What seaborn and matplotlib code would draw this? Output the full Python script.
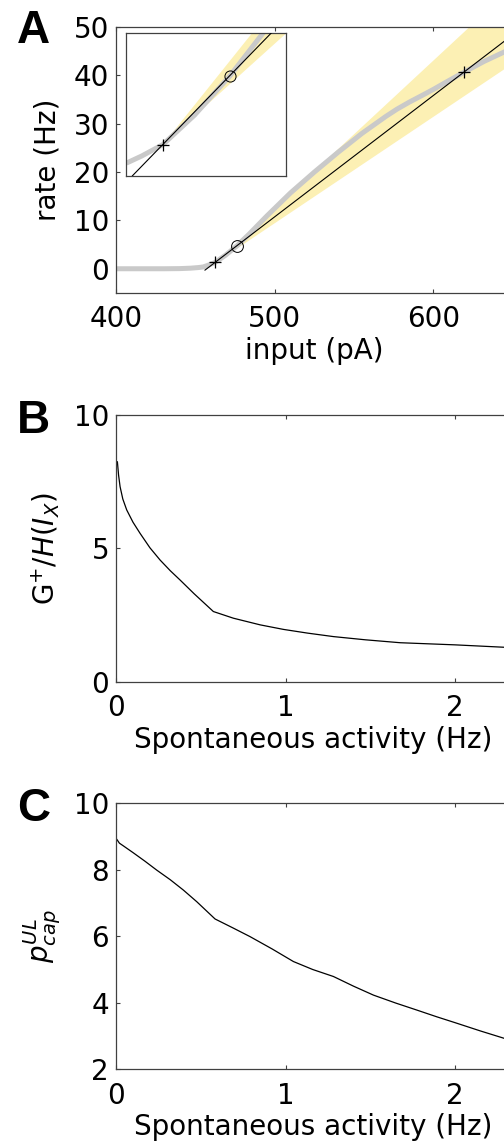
import numpy as np
import pandas as pd
import matplotlib
matplotlib.use("Agg")
import matplotlib.pyplot as plt
import seaborn as sns

# ---------------------------
# Data
# ---------------------------
# Panel A: measured f-I curve (grey), linear fit (black), fit spread (yellow)
fi_input = [400, 430, 440, 447, 452, 455, 458, 462.4, 469, 476.4, 484, 495,
            510, 525, 540, 555, 570, 577, 585, 592, 600, 608, 619.5, 632,
            645, 660]
fi_rate = [0, 0, 0.03, 0.12, 0.25, 0.38, 0.72, 1.3, 2.8, 4.8, 7.2, 10.9,
           15.7, 20.0, 24.1, 28.0, 31.5, 33.0, 34.5, 35.7, 37.1, 38.6, 40.7,
           42.9, 44.9, 47.5]

fit_input = [456.0, 660.0]
fit_rate = [-0.3, 50.9]

band_input = [462.4, 650.0]
band_low = [1.3, 42.6]
band_high = [1.3, 58.5]

plus_input = [462.4, 619.5]
plus_rate = [1.3, 40.7]
circle_input = [476.4]
circle_rate = [4.8]

# Panel B: G+/H(I_X) vs spontaneous activity
spont_b = [0.008, 0.015, 0.024, 0.04, 0.063, 0.1, 0.142, 0.2, 0.26, 0.32,
           0.378, 0.46, 0.574, 0.692, 0.85, 0.987, 1.13, 1.282, 1.47, 1.676,
           2.0, 2.289, 2.5]
gain_b = [8.25, 7.75, 7.31, 6.85, 6.44, 5.98, 5.56, 5.02, 4.56, 4.16,
          3.81, 3.3, 2.63, 2.38, 2.13, 1.96, 1.82, 1.69, 1.57, 1.46,
          1.38, 1.29, 1.24]

# Panel C: p_cap^UL vs spontaneous activity
spont_c = [0.004, 0.02, 0.043, 0.102, 0.17, 0.24, 0.32, 0.397, 0.476, 0.584,
           0.69, 0.79, 0.92, 1.046, 1.16, 1.282, 1.4, 1.518, 1.65, 1.774,
           1.89, 2.0, 2.15, 2.289, 2.5]
pcap_c = [8.92, 8.8, 8.72, 8.51, 8.26, 7.99, 7.7, 7.39, 7.04, 6.52,
          6.25, 5.99, 5.62, 5.24, 5.0, 4.79, 4.5, 4.23, 3.99, 3.78,
          3.58, 3.40, 3.15, 2.93, 2.62]

# ---------------------------
# Style
# ---------------------------
sns.set_theme(style="ticks")
plt.rcParams["font.family"] = ["DejaVu Sans"]
plt.rcParams["mathtext.fontset"] = "dejavusans"
plt.rcParams["text.color"] = "black"
plt.rcParams["axes.labelcolor"] = "black"

FS = 20
SPINE = "#404040"
GREY = "#c9c9c9"
YELLOW = "#fcf0b4"

fig = plt.figure(figsize=(5.04, 11.42), dpi=100)

def style_axes(ax):
    for s in ax.spines.values():
        s.set_color(SPINE)
        s.set_linewidth(0.9)
    ax.tick_params(direction="in", length=3, width=0.8, color=SPINE,
                   top=True, right=True, labelsize=FS, labelcolor="black")
    ax.tick_params(axis="x", pad=9)
    ax.tick_params(axis="y", pad=5)
    ax.set_facecolor("white")

def draw_fi(ax, markers_ms):
    ax.fill_between(band_input, band_low, band_high, color=YELLOW, lw=0, zorder=1)
    sns.lineplot(x=fi_input, y=fi_rate, ax=ax, color=GREY, lw=3.6,
                 sort=False, estimator=None, zorder=2,
                 solid_capstyle="round", solid_joinstyle="round")
    sns.lineplot(x=fit_input, y=fit_rate, ax=ax, color="black", lw=0.8,
                 sort=False, estimator=None, zorder=3)
    ax.plot(plus_input, plus_rate, ls="none", marker="+", ms=markers_ms,
            mew=0.9, color="black", zorder=4)
    ax.plot(circle_input, circle_rate, ls="none", marker="o", ms=markers_ms,
            mfc="none", mec="black", mew=0.7, zorder=4)

# ---------------------------
# Panel A
# ---------------------------
axA = fig.add_axes([0.2302, 0.7435, 0.787, 0.2328])
draw_fi(axA, 8.5)
axA.set_xlim(400, 650)
axA.set_ylim(-5, 50)
axA.set_xticks([400, 500, 600])
axA.set_yticks([0, 10, 20, 30, 40, 50])
axA.set_xlabel("input (pA)", fontsize=FS)
axA.set_ylabel("rate (Hz)", fontsize=FS)
style_axes(axA)
axA.xaxis.set_label_coords(0.5, -0.165)
axA.yaxis.set_label_coords(-0.137, 0.5)

# inset
axI = fig.add_axes([0.25, 0.8459, 0.3175, 0.1255])
draw_fi(axI, 8)
axI.set_xlim(454.7, 488.1)
axI.set_ylim(-0.3, 7.0)
axI.set_xticks([])
axI.set_yticks([])
axI.set_xlabel("")
axI.set_ylabel("")
for s in axI.spines.values():
    s.set_color(SPINE)
    s.set_linewidth(0.9)

# ---------------------------
# Panel B
# ---------------------------
axB = fig.add_axes([0.2302, 0.4031, 0.784, 0.2335])
sns.lineplot(x=spont_b, y=gain_b, ax=axB, color="black", lw=0.9,
             sort=False, estimator=None)
axB.set_xlim(0, 2.33)
axB.set_ylim(0, 10)
axB.set_xticks([0, 1, 2])
axB.set_yticks([0, 5, 10])
axB.set_xlabel("Spontaneous activity (Hz)", fontsize=FS)
axB.set_ylabel(r"G$^{+}$/$H$($I_X$)", fontsize=FS)
style_axes(axB)
axB.xaxis.set_label_coords(0.5, -0.165)
axB.yaxis.set_label_coords(-0.137, 0.5)

# ---------------------------
# Panel C
# ---------------------------
axC = fig.add_axes([0.2302, 0.0637, 0.784, 0.2329])
sns.lineplot(x=spont_c, y=pcap_c, ax=axC, color="black", lw=0.9,
             sort=False, estimator=None)
axC.set_xlim(0, 2.33)
axC.set_ylim(2, 10)
axC.set_xticks([0, 1, 2])
axC.set_yticks([2, 4, 6, 8, 10])
axC.set_xlabel("Spontaneous activity (Hz)", fontsize=FS)
axC.set_ylabel(r"$p^{UL}_{cap}$", fontsize=FS)
style_axes(axC)
axC.xaxis.set_label_coords(0.5, -0.165)
axC.yaxis.set_label_coords(-0.134, 0.5)

# panel letters
for letter, yb in [("A", 0.9623), ("B", 0.6208), ("C", 0.2811)]:
    fig.text(0.034, yb, letter, fontsize=33, fontweight="bold", color="black",
             family=["Liberation Sans", "DejaVu Sans"], va="baseline", ha="left")

fig.savefig("out.png", dpi=100)
